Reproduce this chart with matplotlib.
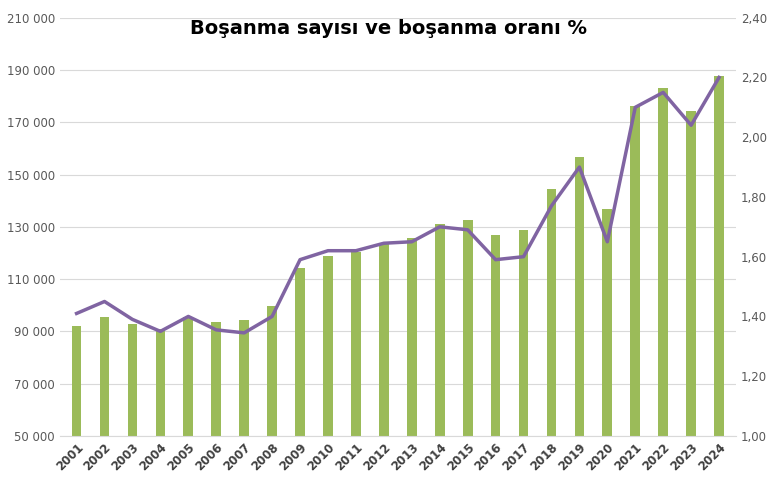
import matplotlib
matplotlib.use("Agg")
import matplotlib.pyplot as plt
import numpy as np

years = [str(y) for y in range(2001, 2025)]
divorces = [92100, 95600, 92900, 91000, 95600, 93600, 94400, 99800, 114300, 118900,
            120400, 123900, 125800, 131100, 132700, 126900, 128900, 144500, 156800,
            136900, 176300, 183200, 174400, 187800]
rate = [1.41, 1.45, 1.39, 1.35, 1.40, 1.355, 1.345, 1.40, 1.59, 1.62, 1.62, 1.645,
        1.65, 1.70, 1.69, 1.59, 1.60, 1.77, 1.90, 1.65, 2.10, 2.15, 2.04, 2.20]

fig = plt.figure(figsize=(7.77, 4.92), dpi=100)
ax = fig.add_axes([0.077, 0.114, 0.87, 0.85])
x = np.arange(len(years))
ax.bar(x, divorces, width=0.35, color="#9bbb59", zorder=2)
ax.set_ylim(50000, 210000)
ax.set_yticks(range(50000, 210001, 20000))
ax.set_yticklabels([f"{v:,}".replace(",", " ") for v in range(50000, 210001, 20000)])
ax.grid(axis="y", color="#d9d9d9", linewidth=0.8, zorder=0)
ax.set_xlim(-0.6, len(years) - 0.4)
ax.set_xticks(x)
ax.set_xticklabels(years, rotation=45, ha="right", rotation_mode="anchor", fontweight="bold", fontsize=10.5)
for s in ax.spines.values():
    s.set_visible(False)
ax.spines["bottom"].set_visible(True)
ax.spines["bottom"].set_color("#d9d9d9")
ax.tick_params(length=0, labelsize=8.5, colors="#595959")
ax.tick_params(axis="x", colors="#404040")

ax2 = ax.twinx()
ax2.plot(x, rate, color="#8064a2", linewidth=2.5, zorder=3)
ax2.set_ylim(1.0, 2.4)
ticks = np.arange(1.0, 2.41, 0.2)
ax2.set_yticks(ticks)
ax2.set_yticklabels([f"{t:.2f}".replace(".", ",") for t in ticks])
for s in ax2.spines.values():
    s.set_visible(False)
ax2.tick_params(length=0, labelsize=8.5, colors="#595959")

fig.text(0.5, 0.93, "Boşanma sayısı ve boşanma oranı %", ha="center", fontsize=14, fontweight="bold")
fig.savefig("out.png", dpi=100)
